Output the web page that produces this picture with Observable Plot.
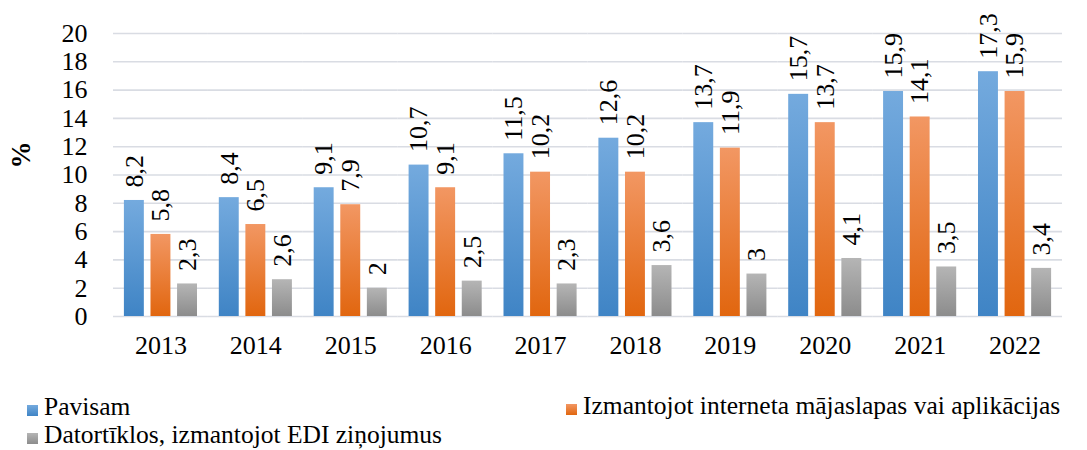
<!DOCTYPE html>
<html>
<head>
<meta charset="utf-8">
<script src="https://cdn.jsdelivr.net/npm/d3@7"></script>
<script src="https://cdn.jsdelivr.net/npm/@observablehq/plot@0.6"></script>
<style>
  html, body { margin: 0; padding: 0; background: #fff; }
  #wrap { position: relative; width: 1087px; height: 450px; font-family: "Liberation Serif", "Tinos", "Times New Roman", "DejaVu Serif", serif; color: #000; }
  #chart { position: absolute; left: 0; top: 0; }
  .lg { position: absolute; font-size: 25.5px; line-height: 28px; white-space: nowrap; }
  .sw { position: absolute; width: 11px; height: 11px; }
  #ylab { position: absolute; left: 21px; top: 155px; transform: translate(-50%, -50%) rotate(-90deg); font-size: 27px; font-weight: bold; }
</style>
</head>
<body>
<div id="wrap">
  <div id="chart"></div>
  <div id="ylab">%</div>
  <div id="legend"></div>
</div>
<script>
const years = ["2013","2014","2015","2016","2017","2018","2019","2020","2021","2022"];
const seriesNames = ["Pavisam", "Izmantojot interneta mājaslapas vai aplikācijas", "Datortīklos, izmantojot EDI ziņojumus"];
const pavisam = [8.2, 8.4, 9.1, 10.7, 11.5, 12.6, 13.7, 15.7, 15.9, 17.3];
const internets = [5.8, 6.5, 7.9, 9.1, 10.2, 10.2, 11.9, 13.7, 14.1, 15.9];
const edi = [2.3, 2.6, 2.0, 2.5, 2.3, 3.6, 3.0, 4.1, 3.5, 3.4];
const yTicks = [0, 2, 4, 6, 8, 10, 12, 14, 16, 18, 20];

const gradients = [
  {id: "g0", top: "#74aade", bottom: "#3f84c5"},
  {id: "g1", top: "#f29763", bottom: "#e1660f"},
  {id: "g2", top: "#b5b5b5", bottom: "#8c8c8c"}
];

const seriesValues = [pavisam, internets, edi];
const data = [];
years.forEach((yr, i) => {
  seriesNames.forEach((s, j) => {
    data.push({year: yr, series: s, value: seriesValues[j][i]});
  });
});
const fmt = v => String(v).replace(".", ",");
const FONT = "'Liberation Serif', Tinos, 'Times New Roman', 'DejaVu Serif', serif";

const chart = Plot.plot({
  width: 1087,
  height: 380,
  marginTop: 33,
  marginBottom: 64,
  marginLeft: 113,
  marginRight: 25,
  style: {fontFamily: FONT, fontSize: "26px", color: "#000", background: "transparent"},
  fx: {domain: years, padding: 0, round: false, label: null, axis: "bottom", tickSize: 0, tickPadding: 19},
  x: {domain: seriesNames, paddingInner: 0.25, paddingOuter: 0.41, round: false, axis: null},
  y: {domain: [0, 20], ticks: yTicks, label: null, tickSize: 0, tickPadding: 26, tickFormat: d => d},
  color: {domain: seriesNames, range: gradients.map(g => `url(#${g.id})`)},
  marks: [
    Plot.ruleY(yTicks, {stroke: "#d9dce3", strokeWidth: 1.6}),
    Plot.barY(data, {fx: "year", x: "series", y: "value", fill: "series"}),
    Plot.text(data, {fx: "year", x: "series", y: "value", text: d => fmt(d.value), rotate: -90, textAnchor: "start", lineAnchor: "middle", dy: -13, fontSize: 26, fill: "#000", fontFamily: FONT})
  ]
});

const ns = "http://www.w3.org/2000/svg";
const defs = document.createElementNS(ns, "defs");
gradients.forEach(g => {
  const lg = document.createElementNS(ns, "linearGradient");
  lg.setAttribute("id", g.id);
  lg.setAttribute("x1", "0"); lg.setAttribute("y1", "0");
  lg.setAttribute("x2", "0"); lg.setAttribute("y2", "1");
  [[0, g.top], [1, g.bottom]].forEach(([o, c]) => {
    const st = document.createElementNS(ns, "stop");
    st.setAttribute("offset", o);
    st.setAttribute("stop-color", c);
    lg.appendChild(st);
  });
  defs.appendChild(lg);
});
chart.insertBefore(defs, chart.firstChild);
document.getElementById("chart").appendChild(chart);

const legendPos = [
  {sx: 27, sy: 405, tx: 44, ty: 393},
  {sx: 566, sy: 404, tx: 583, ty: 392},
  {sx: 27, sy: 433, tx: 44, ty: 421}
];
const lgEl = document.getElementById("legend");
seriesNames.forEach((s, i) => {
  const p = legendPos[i];
  const sw = document.createElement("div");
  sw.className = "sw";
  sw.style.left = p.sx + "px"; sw.style.top = p.sy + "px";
  sw.style.background = `linear-gradient(${gradients[i].top}, ${gradients[i].bottom})`;
  lgEl.appendChild(sw);
  const t = document.createElement("div");
  t.className = "lg";
  t.style.left = p.tx + "px"; t.style.top = p.ty + "px";
  t.textContent = s;
  lgEl.appendChild(t);
});
</script>
</body>
</html>
